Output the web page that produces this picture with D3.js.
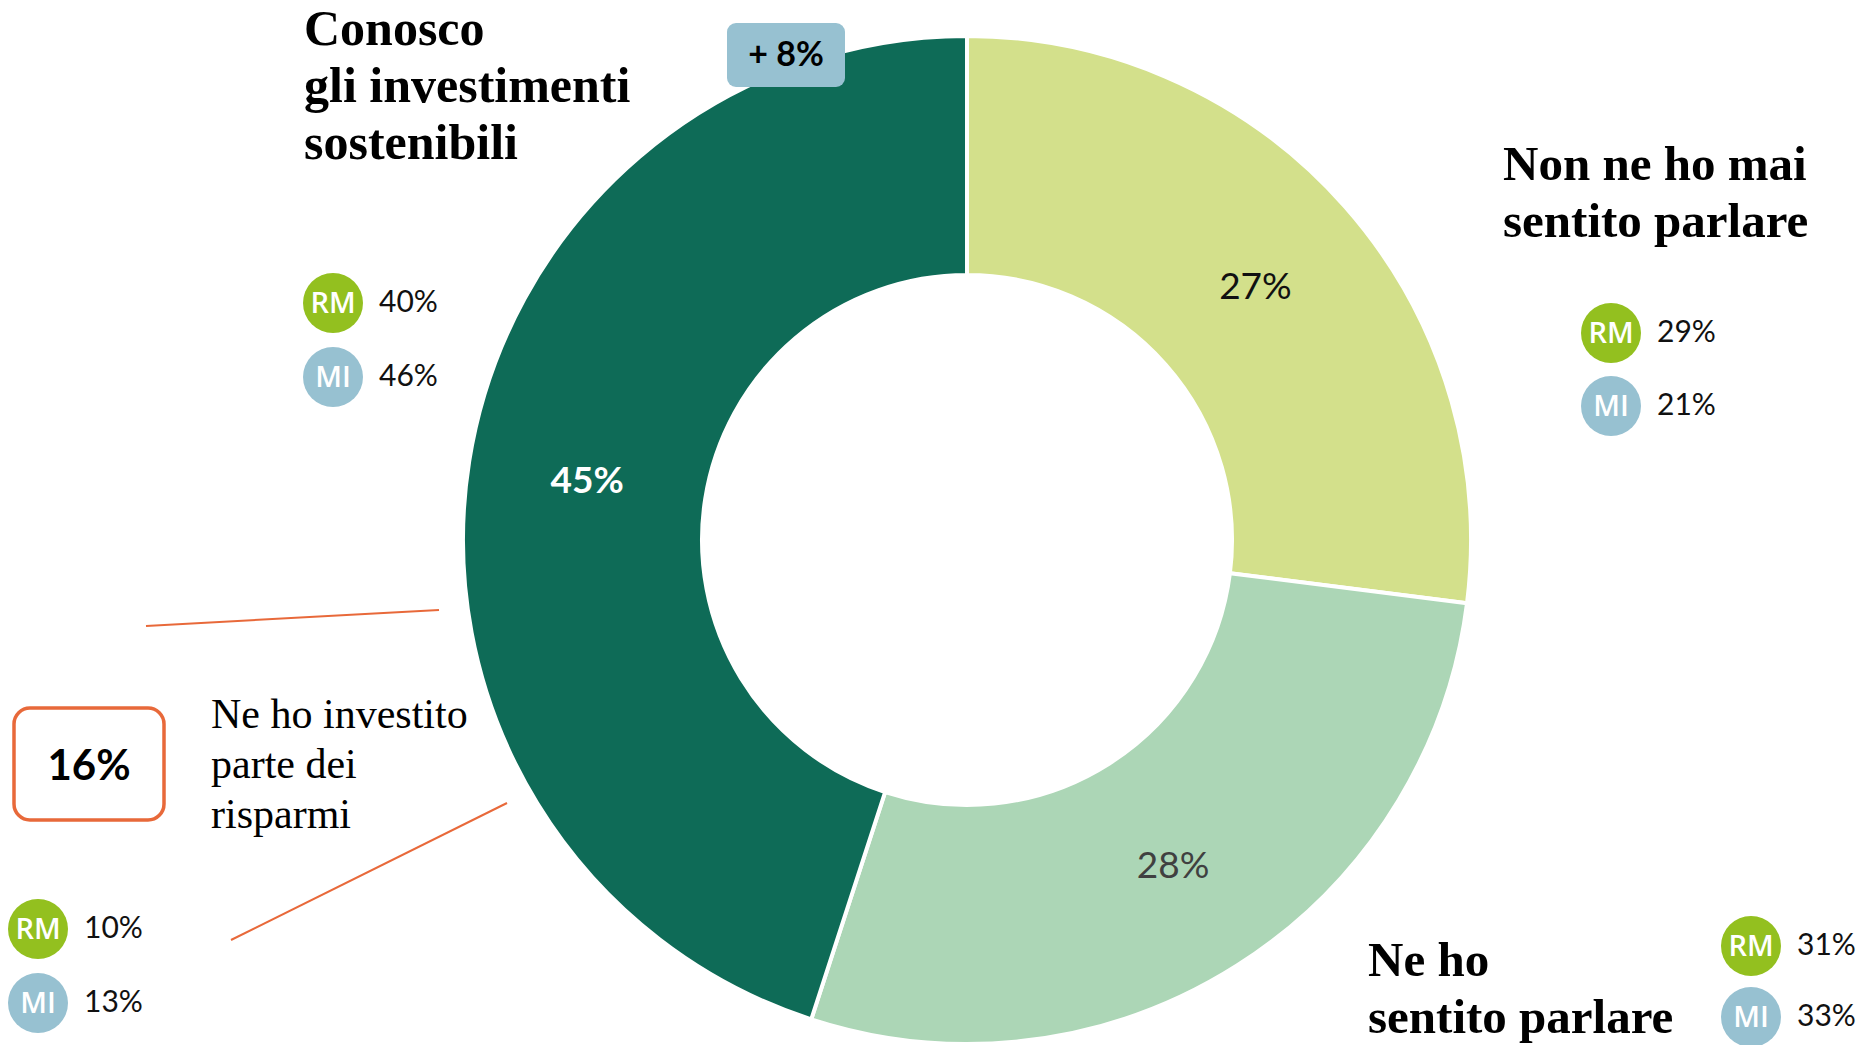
<!DOCTYPE html>
<html>
<head>
<meta charset="utf-8">
<script src="https://cdn.jsdelivr.net/npm/d3@7"></script>
<style>
  html, body { margin: 0; padding: 0; background: #ffffff; }
  svg { display: block; }
</style>
</head>
<body>
<svg id="chart" width="1865" height="1045"></svg>
<script>
// ---- Data ----
const categories = ["Non ne ho mai sentito parlare", "Ne ho sentito parlare", "Conosco gli investimenti sostenibili"];
const values = [27, 28, 45];
const sliceColors = ["#d3e08b", "#acd6b6", "#0e6b57"];
const labelColors = ["#111111", "#404040", "#ffffff"];
const labelWeights = [400, 400, 700];
const cities = ["RM", "MI"];
const cityColors = ["#93c01f", "#97c1d1"];
const rmValues = [29, 31, 40];
const miValues = [21, 33, 46];
const investedValue = 16;
const investedRM = 10;
const investedMI = 13;
const deltaLabel = "+ 8%";

const svg = d3.select("#chart");
const cx = 967, cy = 540, R = 504, r = 265;

const pie = d3.pie().sort(null).value(d => d.v);
const arcs = pie(values.map((v, i) => ({ v, i })));
const arc = d3.arc().innerRadius(r).outerRadius(R);

const g = svg.append("g").attr("transform", `translate(${cx},${cy})`);
g.selectAll("path").data(arcs).join("path")
  .attr("d", arc)
  .attr("fill", d => sliceColors[d.data.i])
  .attr("stroke", "#ffffff")
  .attr("stroke-width", 4);

g.selectAll("text.val").data(arcs).join("text")
  .attr("class", "val")
  .attr("transform", d => `translate(${arc.centroid(d)})`)
  .attr("text-anchor", "middle")
  .attr("dy", "0.35em")
  .attr("font-family", "Lato, sans-serif")
  .attr("font-size", 37)
  .attr("font-weight", d => labelWeights[d.data.i])
  .attr("fill", d => labelColors[d.data.i])
  .text(d => d.data.v + "%");

// ---- Category titles ----
const serif = "'Liberation Serif', 'DejaVu Serif', serif";
function multiline(x, y, lines, lh, size, weight) {
  const t = svg.append("text")
    .attr("font-family", serif).attr("font-size", size)
    .attr("font-weight", weight).attr("fill", "#000");
  lines.forEach((l, i) => t.append("tspan").attr("x", x).attr("y", y + i * lh).text(l));
}
multiline(304, 45, ["Conosco", "gli investimenti", "sostenibili"], 57, 50, 700);
multiline(1503, 180, ["Non ne ho mai", "sentito parlare"], 57, 49, 700);
multiline(1368, 976, ["Ne ho", "sentito parlare"], 57, 49, 700);
multiline(211, 728, ["Ne ho investito", "parte dei", "risparmi"], 50, 42, 400);

// ---- City badges ----
function cityPair(x, y, vals, gap) {
  vals.forEach((v, i) => {
    const yy = y + i * gap;
    svg.append("circle").attr("cx", x).attr("cy", yy).attr("r", 30).attr("fill", cityColors[i]);
    svg.append("text").attr("x", x).attr("y", yy).attr("dy", "0.36em")
      .attr("text-anchor", "middle").attr("font-family", "'Open Sans', Lato, sans-serif")
      .attr("font-size", 29).attr("font-weight", 600).attr("fill", "#ffffff").text(cities[i]);
    svg.append("text").attr("x", x + 46).attr("y", yy).attr("dy", "0.3em")
      .attr("font-family", "Lato, sans-serif").attr("font-size", 30)
      .attr("fill", "#111").text(v + "%");
  });
}
cityPair(333, 303, [rmValues[2], miValues[2]], 74);
cityPair(1611, 333, [rmValues[0], miValues[0]], 73);
cityPair(1751, 946, [rmValues[1], miValues[1]], 71);
cityPair(38, 929, [investedRM, investedMI], 74);

// ---- Delta badge ----
svg.append("rect").attr("x", 727).attr("y", 23).attr("width", 118).attr("height", 64)
  .attr("rx", 9).attr("fill", "#97c1d1");
svg.append("text").attr("x", 786).attr("y", 54).attr("dy", "0.35em")
  .attr("text-anchor", "middle").attr("font-family", "Lato, sans-serif")
  .attr("font-size", 34).attr("font-weight", 700).attr("fill", "#000").text(deltaLabel);

// ---- Invested callout ----
const orange = "#e8693a";
svg.append("line").attr("x1", 146).attr("y1", 626).attr("x2", 439).attr("y2", 610)
  .attr("stroke", orange).attr("stroke-width", 2);
svg.append("line").attr("x1", 231).attr("y1", 940).attr("x2", 507).attr("y2", 803)
  .attr("stroke", orange).attr("stroke-width", 2);
svg.append("rect").attr("x", 14).attr("y", 708).attr("width", 150).attr("height", 112)
  .attr("rx", 16).attr("fill", "#fff").attr("stroke", orange).attr("stroke-width", 3.5);
svg.append("text").attr("x", 89).attr("y", 765).attr("dy", "0.35em")
  .attr("text-anchor", "middle").attr("font-family", "Lato, sans-serif")
  .attr("font-size", 42).attr("font-weight", 700).attr("fill", "#000").text(investedValue + "%");
</script>
</body>
</html>
